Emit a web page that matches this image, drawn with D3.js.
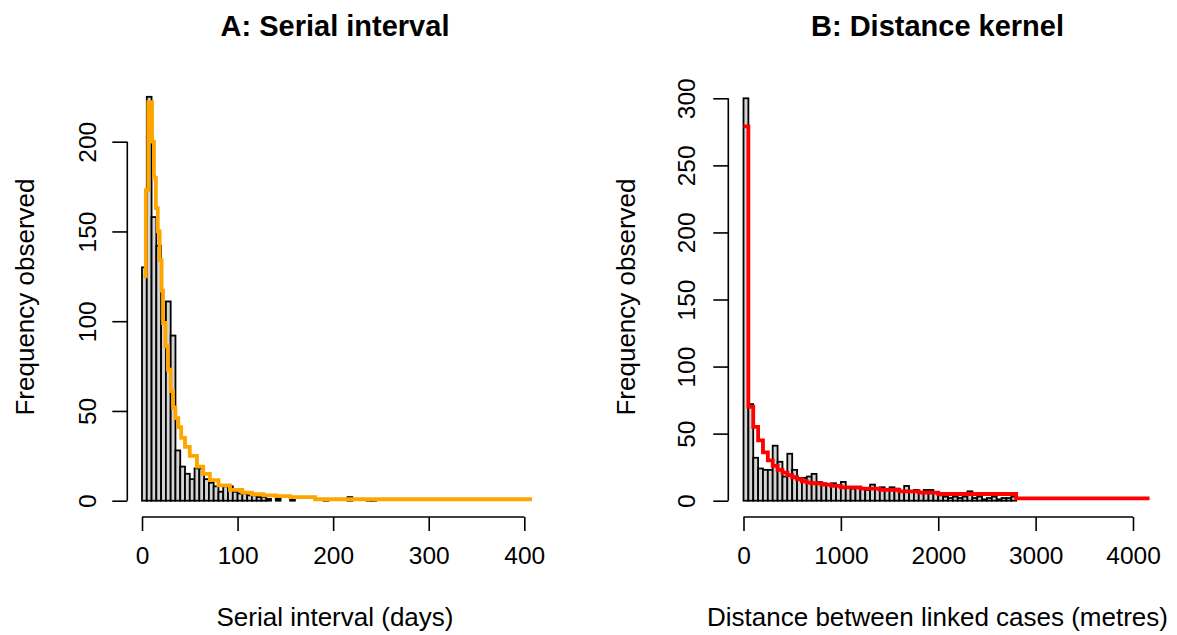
<!DOCTYPE html>
<html><head><meta charset="utf-8">
<script src="https://cdn.jsdelivr.net/npm/d3@7"></script>
<style>
html,body{margin:0;padding:0;background:#fff;}
svg{display:block;}
text{font-family:"Liberation Sans",Arial,sans-serif;fill:#000;}
</style></head>
<body>
<svg id="chart" width="1177" height="635"></svg>
<script>
// ---------- Panel A: serial interval (days), 5-day bins ----------
const serialBinWidth = 5;
const serialCounts = [130,225,158,142,100,111,92,28,19,15,12,18,18,12,10,8,5,8,8,5,
  4,4,3,3,2,2,1,0,1,0,0,1,0,0,0,0,0,0,1,0,0,0,0,2,0,0,0,1,1];
const serialFitDays   = [1.5,4,6.5,10.5,12.5,14.5,16.5,18.5,20.5,22,24.5,27,30,32.5,35,38,41,45,50,57.5,64,71,80,92,105,115,127,140,155,181,181,408];
const serialFitValues = [125,173,222,200,180,163,150,134,117,99,86,73,61,52,46,41,35,30,25,19,15,11.5,8.5,6,4.5,3.6,3,2.5,2,1.7,0.8,0.8];
const serialXTicks = [0,100,200,300,400];
const serialYTicks = [0,50,100,150,200];

// ---------- Panel B: distance kernel (metres), 50 m bins ----------
const distBinWidth = 50;
const distCounts = [300,72,32,24,23,23,41,29,18,35,23,17,17,18,20,14,13,12,13,11,
  14,10,9,10,9,8,12,9,10,8,10,9,7,11,7,8,6,8,8,6,
  4,3,2,3,2,3,7,2,3,1,2,3,1,2,2,3];
const distFitMetres = [0,50,100,150,200,250,300,350,400,450,500,550,600,650,700,800,900,1000,1200,1400,1600,1800,2000,2800,4170];
const distFitValues = [279,70,55,45,36,30,26,23,21,19,17.5,16,14.5,13.5,13,12,11,10,9,8,7,6,5,1.8,1.8];
const distXTicks = [0,1000,2000,3000,4000];
const distYTicks = [0,50,100,150,200,250,300];

const svg = d3.select("#chart");
const FONT = "Liberation Sans, Arial, sans-serif";

function panel(cfg){
  const g = svg.append("g");
  const x = d3.scaleLinear().domain(cfg.xDomain).range(cfg.xRange);
  const y = d3.scaleLinear().domain(cfg.yDomain).range(cfg.yRange);

  // bars
  g.append("g").selectAll("rect").data(cfg.counts).join("rect")
    .attr("x", (d,i)=>x(i*cfg.binWidth))
    .attr("width", (d,i)=>x((i+1)*cfg.binWidth)-x(i*cfg.binWidth))
    .attr("y", d=>y(d))
    .attr("height", d=>y(0)-y(d))
    .attr("fill","#d3d3d3").attr("stroke","#000").attr("stroke-width",1.8);

  // fitted curve
  const pts = cfg.fitX.map((v,i)=>[v,cfg.fitY[i]]);
  g.append("path").datum(pts)
    .attr("d", d3.line().x(d=>x(d[0])).y(d=>y(d[1])).curve(d3.curveStepAfter))
    .attr("fill","none").attr("stroke",cfg.color).attr("stroke-width",3.8);

  // x axis
  const xAxisG = g.append("g").attr("transform",`translate(0,${cfg.xAxisY})`)
    .call(d3.axisBottom(x).tickValues(cfg.xTicks).tickFormat(d3.format("d"))
      .tickSize(14).tickPadding(16).tickSizeOuter(0));
  xAxisG.select(".domain").attr("d",`M${x(cfg.xTicks[0])},0H${x(cfg.xTicks[cfg.xTicks.length-1])}`);
  xAxisG.selectAll("line,path").attr("stroke","#000").attr("stroke-width",1.6);
  xAxisG.selectAll("text").attr("font-size",24.5).attr("font-family",FONT);

  // y axis
  const yAxisG = g.append("g").attr("transform",`translate(${cfg.yAxisX},0)`)
    .call(d3.axisLeft(y).tickValues(cfg.yTicks).tickFormat(d3.format("d"))
      .tickSize(15).tickSizeOuter(0));
  yAxisG.select(".domain").attr("d",`M0,${y(cfg.yTicks[0])}V${y(cfg.yTicks[cfg.yTicks.length-1])}`);
  yAxisG.selectAll("line,path").attr("stroke","#000").attr("stroke-width",1.6);
  yAxisG.selectAll(".tick text")
    .attr("x",null).attr("dy",null)
    .attr("text-anchor","middle")
    .attr("transform",`translate(${cfg.yLabelBase - cfg.yAxisX},0) rotate(-90)`)
    .attr("font-size",24.5).attr("font-family",FONT);

  // titles & labels
  svg.append("text").attr("x",cfg.cx).attr("y",36).attr("text-anchor","middle")
    .attr("font-size",29).attr("font-weight","bold").text(cfg.title);
  svg.append("text").attr("x",cfg.cx).attr("y",626).attr("text-anchor","middle")
    .attr("font-size",26).text(cfg.xLabel);
  svg.append("text").attr("transform",`translate(${cfg.yTitleX},297) rotate(-90)`)
    .attr("text-anchor","middle").attr("font-size",26).text("Frequency observed");
}

panel({
  counts: serialCounts, binWidth: serialBinWidth,
  fitX: serialFitDays, fitY: serialFitValues, color:"#FFA500",
  xDomain:[0,400], xRange:[142,524.3], yDomain:[0,200], yRange:[500.7,141.7],
  xTicks: serialXTicks, yTicks: serialYTicks,
  xAxisY: 517, yAxisX: 127.3, yLabelBase: 96, yTitleX: 34, cx: 335,
  title: "A: Serial interval", xLabel: "Serial interval (days)"
});
panel({
  counts: distCounts, binWidth: distBinWidth,
  fitX: distFitMetres, fitY: distFitValues, color:"#FF0000",
  xDomain:[0,4000], xRange:[743.5,1133], yDomain:[0,300], yRange:[500.7,98.3],
  xTicks: distXTicks, yTicks: distYTicks,
  xAxisY: 517, yAxisX: 728.3, yLabelBase: 695, yTitleX: 635, cx: 937.5,
  title: "B: Distance kernel", xLabel: "Distance between linked cases (metres)"
});
</script>
</body></html>
